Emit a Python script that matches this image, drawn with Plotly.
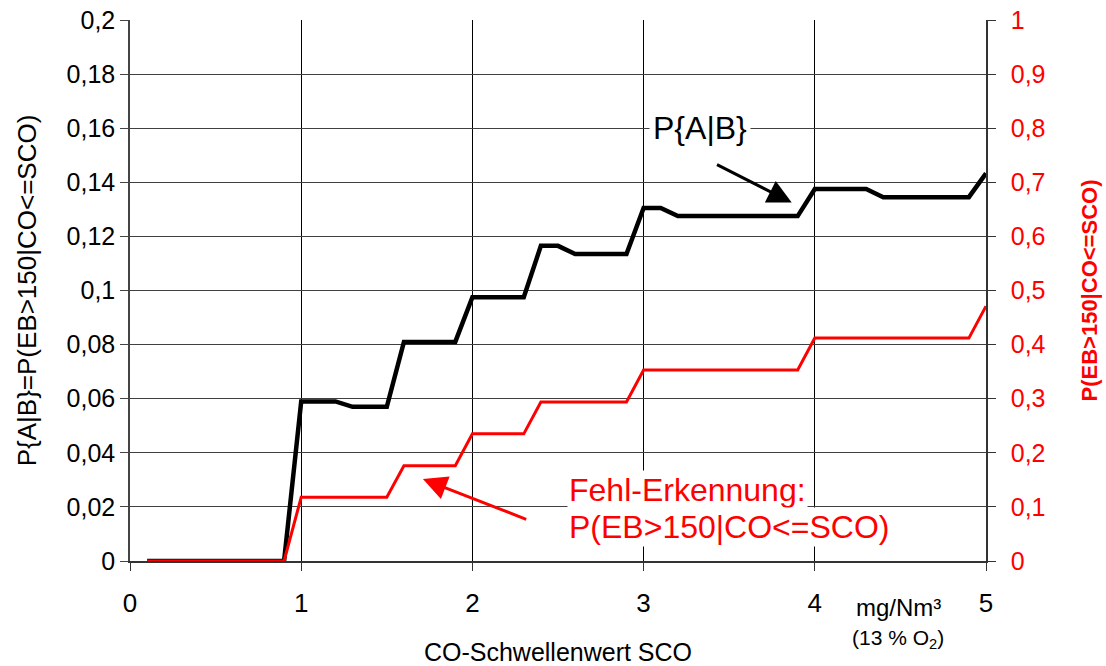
import plotly.graph_objects as go

# CO threshold SCO in mg/Nm³ (13 % O2)
sco = [0.1, 0.2, 0.3, 0.4, 0.5, 0.6, 0.7, 0.8, 0.9, 1.0,
       1.1, 1.2, 1.3, 1.4, 1.5, 1.6, 1.7, 1.8, 1.9, 2.0,
       2.1, 2.2, 2.3, 2.4, 2.5, 2.6, 2.7, 2.8, 2.9, 3.0,
       3.1, 3.2, 3.3, 3.4, 3.5, 3.6, 3.7, 3.8, 3.9, 4.0,
       4.1, 4.2, 4.3, 4.4, 4.5, 4.6, 4.7, 4.8, 4.9, 5.0]

# P{A|B} (left axis)
p_ab = [0, 0, 0, 0, 0, 0, 0, 0, 0, 0.059,
        0.059, 0.059, 0.057, 0.057, 0.057, 0.081, 0.081, 0.081, 0.081, 0.0975,
        0.0975, 0.0975, 0.0975, 0.1165, 0.1165, 0.1135, 0.1135, 0.1135, 0.1135, 0.1305,
        0.1305, 0.1275, 0.1275, 0.1275, 0.1275, 0.1275, 0.1275, 0.1275, 0.1275, 0.1375,
        0.1375, 0.1375, 0.1375, 0.1345, 0.1345, 0.1345, 0.1345, 0.1345, 0.1345, 0.1433]

# P(EB>150|CO<=SCO) (right axis)
p_fehl = [0, 0, 0, 0, 0, 0, 0, 0, 0, 0.118,
          0.118, 0.118, 0.118, 0.118, 0.118, 0.176, 0.176, 0.176, 0.176, 0.235,
          0.235, 0.235, 0.235, 0.294, 0.294, 0.294, 0.294, 0.294, 0.294, 0.353,
          0.353, 0.353, 0.353, 0.353, 0.353, 0.353, 0.353, 0.353, 0.353, 0.412,
          0.412, 0.412, 0.412, 0.412, 0.412, 0.412, 0.412, 0.412, 0.412, 0.471]

FONT = "Liberation Sans, Arial, sans-serif"
RED = "#ff0000"

# plot area in pixels (left, right, top, bottom)
PL, PR, PT, PB = 130, 986, 20, 561


def px_to_paper(xp, yp):
    return (xp - PL) / (PR - PL), (PB - yp) / (PB - PT)


fig = go.Figure()
fig.add_trace(go.Scatter(x=sco, y=p_ab, mode="lines", yaxis="y",
                         line=dict(color="black", width=4.5), showlegend=False))
fig.add_trace(go.Scatter(x=sco, y=p_fehl, mode="lines", yaxis="y2",
                         line=dict(color=RED, width=3), showlegend=False))

ux1, uy1 = px_to_paper(898, 607)
ux2, uy2 = px_to_paper(898, 639)

annotations = [
    # label for the black curve
    dict(x=3.33, y=0.16, xref="x", yref="y", text="P{A|B}", showarrow=False,
         font=dict(family=FONT, size=32, color="black"), bgcolor="white", borderpad=3),
    dict(x=3.865, y=0.1325, xref="x", yref="y", ax=3.42, ay=0.1468, axref="x", ayref="y",
         text="", showarrow=True, arrowhead=2, arrowsize=1.6, arrowwidth=3, arrowcolor="black"),
    # label for the red curve
    dict(x=2.555, y=(561 - 490) / 2705, xref="x", yref="y", text="Fehl-Erkennung:",
         showarrow=False, xanchor="left", font=dict(family=FONT, size=32, color=RED),
         bgcolor="white", borderpad=1),
    dict(x=2.555, y=(561 - 527) / 2705, xref="x", yref="y", text="P(EB>150|CO<=SCO)",
         showarrow=False, xanchor="left", font=dict(family=FONT, size=32, color=RED),
         bgcolor="white", borderpad=1),
    dict(x=1.711, y=0.0303, xref="x", yref="y", ax=2.323, ay=0.0152, axref="x", ayref="y",
         text="", showarrow=True, arrowhead=2, arrowsize=1.6, arrowwidth=3, arrowcolor=RED),
    # unit label under the x axis
    dict(x=ux1, y=uy1, xref="paper", yref="paper", xanchor="center", yanchor="middle",
         text="mg/Nm³", showarrow=False, font=dict(family=FONT, size=24, color="black")),
    dict(x=ux2, y=uy2, xref="paper", yref="paper", xanchor="center", yanchor="middle",
         text="(13 % O<sub>2</sub>)", showarrow=False,
         font=dict(family=FONT, size=21, color="black")),
]

fig.update_layout(
    width=1106, height=666,
    margin=dict(l=PL, r=1106 - PR, t=PT, b=666 - PB),
    paper_bgcolor="white", plot_bgcolor="white",
    separators=", ",
    font=dict(family=FONT, size=25, color="black"),
    xaxis=dict(range=[0, 5], dtick=1, tick0=0, showgrid=True, gridcolor="black", gridwidth=1,
               zeroline=False, showline=True, linecolor="#333", linewidth=1.5,
               ticks="outside", ticklen=8, tickcolor="#333", ticklabelstandoff=10,
               tickfont=dict(size=26), automargin=False,
               title=dict(text="CO-Schwellenwert SCO", font=dict(size=25), standoff=27)),
    yaxis=dict(range=[0, 0.2], dtick=0.02, tick0=0, showgrid=True, gridcolor="#404040", gridwidth=1,
               zeroline=False, showline=True, linecolor="#444", linewidth=1.5,
               ticks="outside", ticklen=8, tickcolor="#444",
               tickfont=dict(size=25), automargin=False,
               title=dict(text="P{A|B}=P(EB>150|CO<=SCO)", font=dict(size=26), standoff=22)),
    yaxis2=dict(range=[0, 1], dtick=0.1, tick0=0, overlaying="y", side="right", showgrid=False,
                zeroline=False, showline=True, linecolor="#333", linewidth=1.5,
                ticks="outside", ticklen=8, tickcolor="#333", ticklabelstandoff=10,
                tickfont=dict(size=25, color=RED), automargin=False,
                title=dict(text="<b>P(EB>150|CO<=SCO)</b>", font=dict(size=22, color=RED), standoff=37)),
    annotations=annotations,
)

fig.write_html("out.html")
